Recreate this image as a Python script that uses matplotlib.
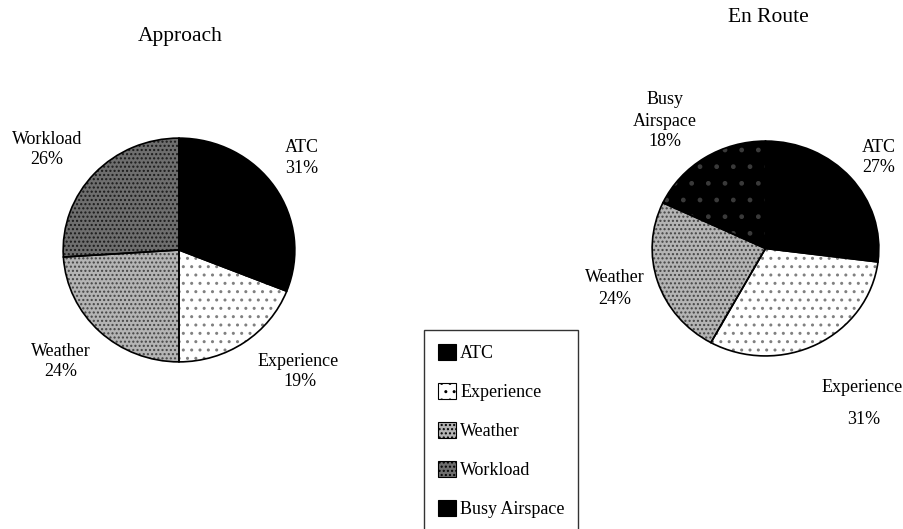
import matplotlib.pyplot as plt
from matplotlib.patches import Patch

plt.rcParams['font.family'] = ['Liberation Serif', 'DejaVu Serif']
plt.rcParams['hatch.linewidth'] = 1.0

# data
approach_labels = ['ATC', 'Experience', 'Weather', 'Workload']
approach_values = [31, 19, 24, 26]
enroute_labels = ['ATC', 'Experience', 'Weather', 'Busy Airspace']
enroute_values = [27, 31, 24, 18]

# stipple-like styles for each category
styles = {
    'ATC': ('black', None, 'black'),
    'Experience': ('white', '..', '#808080'),
    'Weather': ('#b4b4b4', '....', '#444444'),
    'Workload': ('#6e6e6e', '....', '#1a1a1a'),
    'Busy Airspace': ('black', '.', '#3a3a3a'),
}

W, H = 904, 529
fig = plt.figure(figsize=(W / 100, H / 100), dpi=100)


def px_axes(left, top, width, height):
    return fig.add_axes([left / W, 1 - (top + height) / H, width / W, height / H])


def draw_pie(ax, labels, values):
    # fill + stipple layer
    wedges, _ = ax.pie(values, startangle=90, counterclock=False, radius=1)
    for w, lab in zip(wedges, labels):
        fc, hatch, hc = styles[lab]
        w.set_facecolor(fc)
        w.set_edgecolor(hc)
        w.set_linewidth(0)
        if hatch:
            w.set_hatch(hatch)
    # outline layer
    ax.pie(values, startangle=90, counterclock=False, radius=1,
           wedgeprops=dict(facecolor='none', edgecolor='black', linewidth=1.2))
    ax.set_xlim(-1.01, 1.01)
    ax.set_ylim(-1.01, 1.01)
    ax.set_aspect('auto')
    ax.axis('off')


ax1 = px_axes(62, 137, 234, 226)
draw_pie(ax1, approach_labels, approach_values)
ax2 = px_axes(651, 140, 229, 217)
draw_pie(ax2, enroute_labels, enroute_values)


def ftxt(x, y, s, size=13):
    fig.text(x / W, 1 - y / H, s, ha='center', va='center', fontsize=size)


ftxt(180, 36, 'Approach', 15.5)
ftxt(768, 18, 'En Route', 15.5)

# Approach labels
ftxt(302, 148, approach_labels[0])
ftxt(302, 169, f'{approach_values[0]}%')
ftxt(298, 361, approach_labels[1])
ftxt(300, 381, f'{approach_values[1]}%')
ftxt(61, 352, approach_labels[2])
ftxt(61, 372, f'{approach_values[2]}%')
ftxt(47, 139, approach_labels[3])
ftxt(47, 160, f'{approach_values[3]}%')

# En Route labels
ftxt(879, 148, enroute_labels[0])
ftxt(879, 167, f'{enroute_values[0]}%')
ftxt(862, 388, enroute_labels[1])
ftxt(864, 420, f'{enroute_values[1]}%')
ftxt(615, 278, enroute_labels[2])
ftxt(615, 299, f'{enroute_values[2]}%')
ftxt(665, 100, 'Busy')
ftxt(665, 122, 'Airspace')
ftxt(665, 142, f'{enroute_values[3]}%')

# legend
legend_labels = ['ATC', 'Experience', 'Weather', 'Workload', 'Busy Airspace']
handles = []
for lab in legend_labels:
    fc, hatch, hc = styles[lab]
    handles.append(Patch(facecolor=fc, edgecolor='black', hatch=hatch, linewidth=0.8))
leg = fig.legend(handles, legend_labels, loc='upper left',
                 bbox_to_anchor=(424 / W, 1 - 330 / H), fontsize=13,
                 frameon=True, fancybox=False, edgecolor='black',
                 handlelength=1.0, handleheight=1.0, handletextpad=0.25,
                 labelspacing=1.15, borderpad=0.75, borderaxespad=0)
leg.get_frame().set_linewidth(1.0)

fig.savefig('out.png', dpi=100)
